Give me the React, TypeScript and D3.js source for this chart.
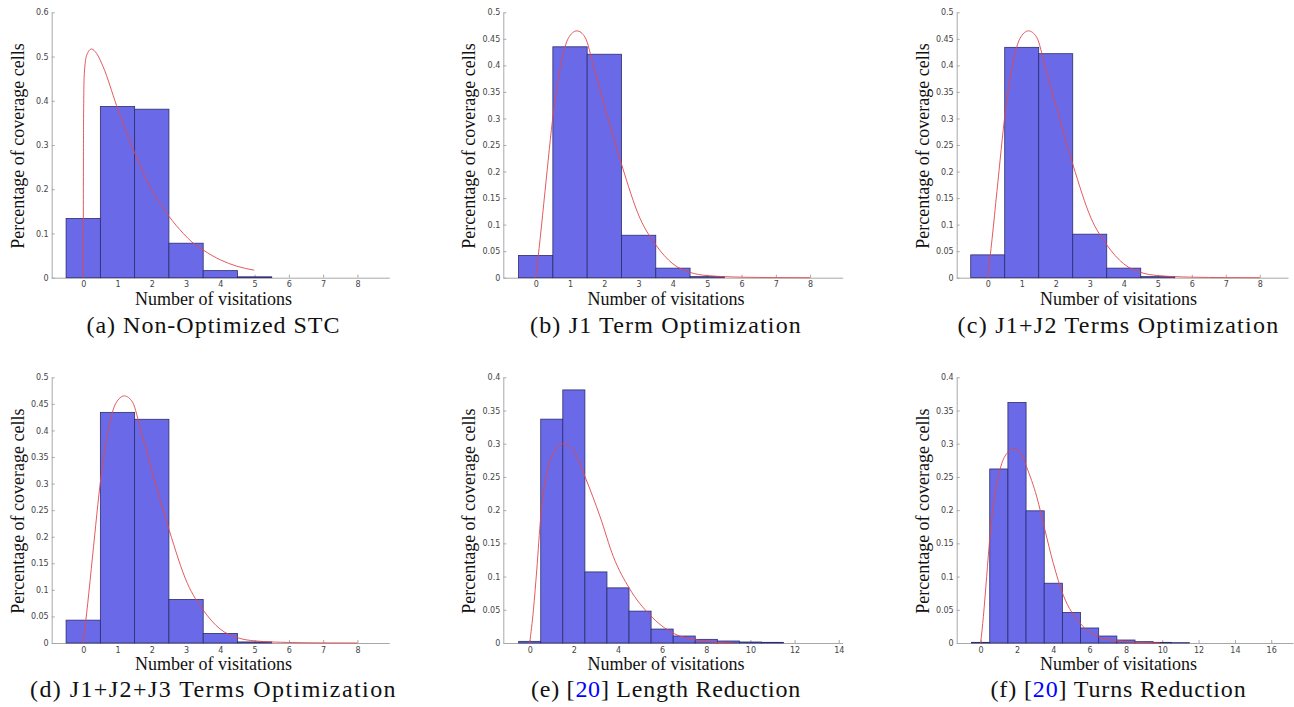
import React, { useEffect, useRef } from "react"
import * as d3 from "d3"

// histogram bins (number of visitations)
const binsSmall = [0, 1, 2, 3, 4, 5]
const binsLarge = [0, 1, 2, 3, 4, 5, 6, 7, 8, 9, 10, 11]

// bar heights
const valuesA = [0.134, 0.387, 0.381, 0.078, 0.016, 0.002]
const valuesB = [0.042, 0.435, 0.421, 0.080, 0.018, 0.002]
const valuesC = [0.043, 0.434, 0.422, 0.082, 0.018, 0.002]
const valuesD = [0.043, 0.434, 0.421, 0.082, 0.018, 0.002]
const valuesE = [0.0025, 0.337, 0.381, 0.107, 0.083, 0.048, 0.021, 0.0105, 0.0055, 0.003, 0.0015, 0.001]
const valuesF = [0.001, 0.262, 0.362, 0.199, 0.090, 0.046, 0.0226, 0.0105, 0.0045, 0.002, 0.001, 0.0005]

// fitted curves, points [x, y]
const curveA = [[0, 0], [0.01, 0.36], [0.03, 0.46], [0.1, 0.503], [0.24, 0.517], [0.39, 0.507], [0.58, 0.477],
  [0.97, 0.39], [1.27, 0.326], [1.53, 0.277], [1.95, 0.206], [2.51, 0.138], [2.92, 0.100], [3.21, 0.078],
  [3.5, 0.0625], [4.01, 0.040], [4.48, 0.026], [4.99, 0.017]]
const curveBCD = [[0, 0], [0.13, 0.074], [0.27, 0.162], [0.52, 0.313], [0.76, 0.41], [0.95, 0.451], [1.2, 0.465],
  [1.44, 0.453], [1.68, 0.40], [1.97, 0.332], [2.51, 0.212], [3.04, 0.112], [3.5, 0.062], [4.0, 0.026],
  [4.5, 0.010], [5.0, 0.004], [6, 0.001], [7, 0.0002], [8, 0]]
const curveE = [[0, 0], [0.17, 0.05], [0.32, 0.11], [0.5, 0.19], [0.77, 0.255], [1.07, 0.285], [1.53, 0.30],
  [1.98, 0.29], [2.51, 0.25], [3.19, 0.19], [3.79, 0.13], [4.52, 0.082], [5.45, 0.042], [6.51, 0.0146],
  [7.57, 0.0045], [8.47, 0.001], [9.2, 0]]
const curveF = [[0, 0], [0.15, 0.04], [0.33, 0.10], [0.51, 0.16], [0.79, 0.225], [1.16, 0.27], [1.52, 0.288],
  [1.84, 0.293], [2.17, 0.288], [2.53, 0.265], [3.09, 0.22], [3.54, 0.17], [4.0, 0.12], [4.55, 0.072],
  [5.47, 0.03], [6.48, 0.0095], [7.49, 0.0035], [8.6, 0.001], [9.88, 0]]

// tick labels
const xTicks8 = [0, 1, 2, 3, 4, 5, 6, 7, 8]
const xTicks14 = [0, 2, 4, 6, 8, 10, 12, 14]
const xTicks16 = [0, 2, 4, 6, 8, 10, 12, 14, 16]
const yTicks06 = [0, 0.1, 0.2, 0.3, 0.4, 0.5, 0.6]
const yTicks05 = [0, 0.05, 0.1, 0.15, 0.2, 0.25, 0.3, 0.35, 0.4, 0.45, 0.5]
const yTicks04 = [0, 0.05, 0.1, 0.15, 0.2, 0.25, 0.3, 0.35, 0.4]

const xLabel = "Number of visitations"
const yLabel = "Percentage of coverage cells"

const captionA = [{ t: "(a) Non-Optimized STC" }]
const captionB = [{ t: "(b) J1 Term Optimization" }]
const captionC = [{ t: "(c) J1+J2 Terms Optimization" }]
const captionD = [{ t: "(d) J1+J2+J3 Terms Optimization" }]
const captionE = [{ t: "(e) [" }, { t: "20", link: true }, { t: "] Length Reduction" }]
const captionF = [{ t: "(f) [" }, { t: "20", link: true }, { t: "] Turns Reduction" }]

const labelFont = "'Liberation Serif'"
const captionFont = "'Liberation Serif'"

// layout of each subplot (pixels)
const top1 = 12.3, bot1 = 277.7, top2 = 377.3, bot2 = 643
const panels = [
  { bins: binsSmall, values: valuesA, curve: curveA, xTicks: xTicks8, yTicks: yTicks06, yMax: 0.6, caption: captionA,
    left: 51.7, right: 389.3, top: top1, bottom: bot1, xMin: -0.92, xMax: 8.93, center: 213.5, capW: 254, row: 0 },
  { bins: binsSmall, values: valuesB, curve: curveBCD, xTicks: xTicks8, yTicks: yTicks05, yMax: 0.5, caption: captionB,
    left: 503.3, right: 842.7, top: top1, bottom: bot1, xMin: -0.945, xMax: 8.95, center: 666, capW: 272, row: 0 },
  { bins: binsSmall, values: valuesC, curve: curveBCD, xTicks: xTicks8, yTicks: yTicks05, yMax: 0.5, caption: captionC,
    left: 956.7, right: 1288, top: top1, bottom: bot1, xMin: -0.912, xMax: 8.83, center: 1118.5, capW: 322, row: 0 },
  { bins: binsSmall, values: valuesD, curve: curveBCD, xTicks: xTicks8, yTicks: yTicks05, yMax: 0.5, caption: captionD,
    left: 51.7, right: 389.3, top: top2, bottom: bot2, xMin: -0.92, xMax: 8.93, center: 213.5, capW: 367, row: 1 },
  { bins: binsLarge, values: valuesE, curve: curveE, xTicks: xTicks14, yTicks: yTicks04, yMax: 0.4, caption: captionE,
    left: 503.3, right: 842.7, top: top2, bottom: bot2, xMin: -1.196, xMax: 14.18, center: 666, capW: 270, row: 1 },
  { bins: binsLarge, values: valuesF, curve: curveF, xTicks: xTicks16, yTicks: yTicks04, yMax: 0.4, caption: captionF,
    left: 956.7, right: 1293, top: top2, bottom: bot2, xMin: -1.32, xMax: 17.2, center: 1118.5, capW: 256, row: 1 },
]

const xLabelBase = [305, 670]
const captionBase = [332.5, 697]

function drawPanel(svg: any, p: any) {
  const x = d3.scaleLinear().domain([p.xMin, p.xMax]).range([p.left, p.right])
  const y = d3.scaleLinear().domain([0, p.yMax]).range([p.bottom, p.top])
  const g = svg.append("g")

  const xAxis = d3.axisBottom(x).tickValues(p.xTicks).tickSizeInner(-3).tickSizeOuter(0).tickPadding(4)
    .tickFormat((d: any) => String(d))
  const yAxis = d3.axisLeft(y).tickValues(p.yTicks).tickSizeInner(-3).tickSizeOuter(0).tickPadding(3)
    .tickFormat((d: any) => String(+(+d).toFixed(2)))

  const gx = g.append("g").attr("transform", `translate(0,${p.bottom})`).call(xAxis)
  const gy = g.append("g").attr("transform", `translate(${p.left},0)`).call(yAxis)
  ;[gx, gy].forEach(a => {
    a.attr("font-family", "DejaVu Sans, sans-serif").attr("font-size", 8)
    a.select(".domain").attr("stroke", "#a8a8a8").attr("stroke-width", 1)
    a.selectAll(".tick line").attr("stroke", "#a8a8a8")
    a.selectAll(".tick text").attr("fill", "#444")
  })

  // bars
  g.append("g").selectAll("rect").data(p.values).join("rect")
    .attr("x", (d: number, i: number) => x(p.bins[i] - 0.5))
    .attr("width", (d: number, i: number) => x(p.bins[i] + 0.5) - x(p.bins[i] - 0.5))
    .attr("y", (d: number) => y(d))
    .attr("height", (d: number) => y(0) - y(d))
    .attr("fill", "#6a6ae8")
    .attr("stroke", "#2c2c6e")
    .attr("stroke-width", 0.8)

  // fitted curve
  const line = d3.line<number[]>().x(d => x(d[0])).y(d => y(d[1])).curve(d3.curveMonotoneX)
  g.append("path").attr("d", line(p.curve)).attr("fill", "none")
    .attr("stroke", "#e0474c").attr("stroke-width", 0.9)

  // axis labels
  g.append("text").text(xLabel)
    .attr("x", p.center).attr("y", xLabelBase[p.row])
    .attr("text-anchor", "middle")
    .style("font-family", labelFont).style("font-size", "18px").attr("fill", "#111")

  g.append("text").text(yLabel)
    .attr("transform", `translate(${p.left - 34},${(p.top + p.bottom) / 2 + 1}) rotate(-90)`)
    .attr("text-anchor", "middle").attr("dominant-baseline", "central")
    .style("font-family", labelFont).style("font-size", "18px").attr("fill", "#111")

  // caption
  const cap = g.append("text")
    .attr("x", p.center).attr("y", captionBase[p.row])
    .attr("text-anchor", "middle")
    .style("font-family", captionFont).style("font-size", "24px").attr("fill", "#111")
  p.caption.forEach((part: any) => {
    cap.append("tspan").text(part.t).attr("fill", part.link ? "#0000ff" : "#111")
  })
  const node = cap.node() as SVGTextElement
  const w = node.getComputedTextLength()
  const n = p.caption.map((c: any) => c.t).join("").length
  const ls = (p.capW - w) / n
  cap.style("letter-spacing", ls + "px")
}

export default function App() {
  const ref = useRef<SVGSVGElement>(null)
  useEffect(() => {
    const svg = d3.select(ref.current)
    svg.selectAll("*").remove()
    panels.forEach(p => drawPanel(svg, p))
  }, [])
  return (
    <svg ref={ref} width={1294} height={707}
      style={{ position: "absolute", left: 0, top: 0, background: "#fff" }} />
  )
}
